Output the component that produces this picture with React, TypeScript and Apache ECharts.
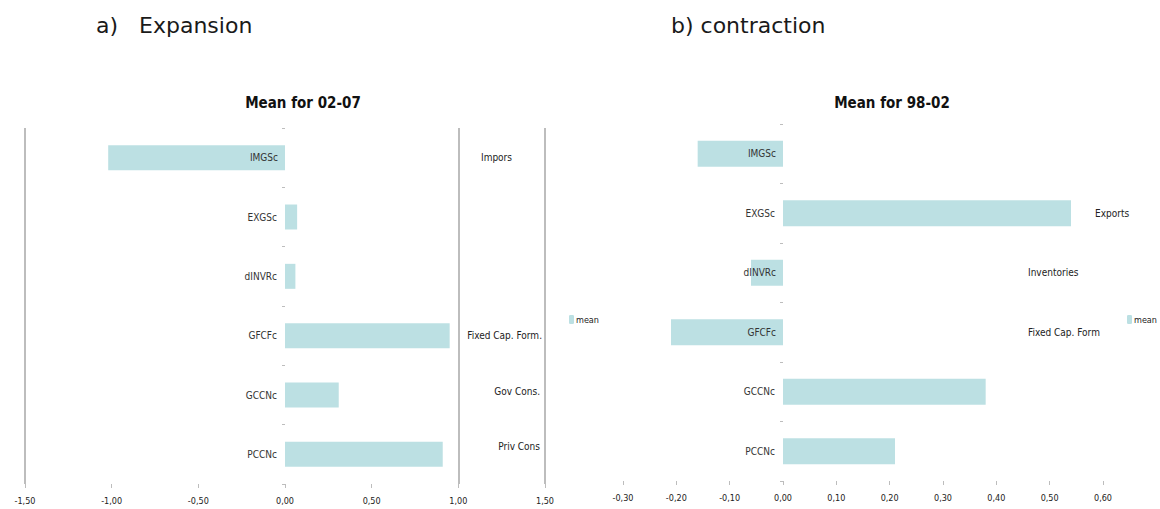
import React, { useEffect, useRef } from 'react';
import * as echarts from 'echarts';

// GDP component means (contributions)
const categories = ['IMGSc', 'EXGSc', 'dINVRc', 'GFCFc', 'GCCNc', 'PCCNc'];
const expansionMeans = [-1.02, 0.07, 0.06, 0.95, 0.31, 0.91];
const contractionMeans = [-0.16, 0.54, -0.06, -0.21, 0.38, 0.21];

const expansionNotes = ['Impors', '', '', 'Fixed Cap. Form.', 'Gov Cons.', 'Priv Cons'];
const contractionNotes = ['', 'Exports', 'Inventories', 'Fixed Cap. Form', '', ''];

// min, max, interval
const expansionRange = [-1.5, 1.5, 0.5];
const contractionRange = [-0.3, 0.6, 0.1];
const expansionGuides = [-1.5, 1.0, 1.5];

const NARROW = "'Liberation Sans Narrow', 'DejaVu Sans Condensed', 'Arial Narrow', 'Liberation Sans', sans-serif";
const BAR = '#bce0e3';
const GREY = '#bdbdbd';

const fmt = (v: number) => (Math.abs(v) < 1e-9 ? '0,00' : v.toFixed(2).replace('.', ','));

// category name sits just left of the zero line, over the bar when it is negative
const barData = (values: number[]) =>
  values.map((v) => ({
    value: v,
    label: v < 0 ? { position: 'insideRight' as const, distance: 7 } : { position: 'left' as const, distance: 8 },
  }));

const App: React.FC = () => {
  const chartRef = useRef<HTMLDivElement>(null);

  useEffect(() => {
    document.body.style.margin = '0';
    if (!chartRef.current) return;
    const chart = echarts.init(chartRef.current, undefined, { renderer: 'svg' });

    const xAxisBase = (range: number[], grid: number) => ({
      type: 'value' as const,
      gridIndex: grid,
      min: range[0],
      max: range[1],
      interval: range[2],
      axisLine: { show: false },
      axisTick: { show: true, length: 4, lineStyle: { color: GREY } },
      splitLine: { show: false },
      axisLabel: { fontFamily: NARROW, fontSize: 9, color: '#222', margin: 12, formatter: fmt },
    });

    const catAxis = (grid: number) => ({
      type: 'category' as const,
      gridIndex: grid,
      data: categories,
      inverse: true,
      axisLine: { show: true, onZero: true, lineStyle: { color: GREY, opacity: 0 } },
      axisTick: { show: true, length: 3, lineStyle: { color: GREY } },
      axisLabel: { show: false },
    });

    const noteAxis = (grid: number, notes: string[], extra: object) => ({
      type: 'category' as const,
      gridIndex: grid,
      data: categories,
      inverse: true,
      position: 'right' as const,
      axisLine: { show: false, onZero: false },
      axisTick: { show: false },
      axisLabel: {
        inside: true,
        formatter: (_v: string, i: number) => (notes[i] ? `{s${i}|${notes[i]}}` : ''),
        ...extra,
      },
    });

    const barLabel = {
      show: true,
      formatter: '{b}',
      fontFamily: NARROW,
      fontSize: 10,
      color: '#333',
    };

    const note = { fontFamily: NARROW, fontSize: 10, color: '#222' };

    chart.setOption({
      animation: false,
      title: [
        {
          text: 'a)   Expansion', left: 91, top: 9,
          textStyle: { fontFamily: "'DejaVu Sans', Verdana, sans-serif", fontSize: 22, fontWeight: 'normal', color: '#1a1a1a' },
        },
        {
          text: 'b) contraction', left: 666, top: 9,
          textStyle: { fontFamily: "'DejaVu Sans', Verdana, sans-serif", fontSize: 22, fontWeight: 'normal', color: '#1a1a1a' },
        },
        {
          text: 'Mean for 02-07', left: 298, top: 90, textAlign: 'center',
          textStyle: { fontFamily: NARROW, fontSize: 15, fontWeight: 'bold', color: '#111' },
        },
        {
          text: 'Mean for 98-02', left: 887, top: 90, textAlign: 'center',
          textStyle: { fontFamily: NARROW, fontSize: 15, fontWeight: 'bold', color: '#111' },
        },
      ],
      legend: [
        {
          data: ['mean'], left: 569, top: 315, padding: 0, itemWidth: 5, itemHeight: 9, itemGap: 2,
          textStyle: { fontFamily: NARROW, fontSize: 9, color: '#222', padding: [0, 0, 0, -3] },
        },
        {
          data: ['mean'], left: 1127, top: 315, padding: 0, itemWidth: 5, itemHeight: 9, itemGap: 2,
          textStyle: { fontFamily: NARROW, fontSize: 9, color: '#222', padding: [0, 0, 0, -3] },
        },
      ],
      grid: [
        { left: 25, width: 520, top: 128, height: 356, outerBoundsMode: 'none' },
        { left: 623, width: 480, top: 124, height: 357, outerBoundsMode: 'none' },
      ],
      xAxis: [xAxisBase(expansionRange, 0), xAxisBase(contractionRange, 1)],
      yAxis: [
        catAxis(0),
        noteAxis(0, expansionNotes, {
          margin: 3,
          rich: {
            s0: { ...note, padding: [0, 30, 0, 0] },
            s3: note,
            s4: { ...note, padding: [0, 2, 8, 0] },
            s5: { ...note, padding: [0, 2, 16, 0] },
          },
        }),
        catAxis(1),
        noteAxis(1, contractionNotes, {
          margin: 75,
          align: 'left',
          rich: {
            s1: { ...note, padding: [0, 0, 0, 67] },
            s2: note,
            s3: note,
          },
        }),
      ],
      series: [
        {
          name: 'mean',
          type: 'bar',
          xAxisIndex: 0,
          yAxisIndex: 0,
          data: barData(expansionMeans),
          barWidth: 25,
          itemStyle: { color: BAR },
          label: barLabel,
          markLine: {
            silent: true,
            symbol: 'none',
            label: { show: false },
            lineStyle: { color: GREY, width: 2, type: 'solid' },
            data: expansionGuides.map((v) => ({ xAxis: v })),
          },
        },
        {
          name: 'mean',
          type: 'bar',
          xAxisIndex: 1,
          yAxisIndex: 2,
          data: barData(contractionMeans),
          barWidth: 26,
          itemStyle: { color: BAR },
          label: barLabel,
        },
      ],
    });

    return () => chart.dispose();
  }, []);

  return <div ref={chartRef} style={{ width: 1160, height: 509 }} />;
};

export default App;
